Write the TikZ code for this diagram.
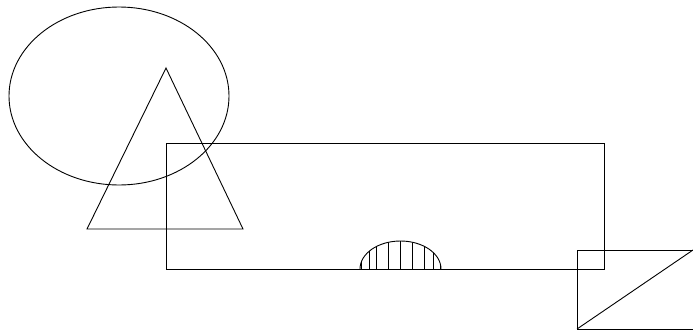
\documentclass[tikz,border=0pt]{standalone}
\begin{document}
\begin{tikzpicture}[x=1pt,y=-1pt,line width=0.9pt,
  figline/.style={draw=black}]
\useasboundingbox (0,0) rectangle (693,330);
% ellipse
\draw[figline] (119,96) ellipse [x radius=110, y radius=89];
% triangle
\draw[figline] (166,68) -- (87,229) -- (243,229) -- cycle;
% rectangle
\draw[figline] (166,143) rectangle (604,269);
% hatched half ellipse
\begin{scope}
\clip (360,269) arc[start angle=180, end angle=360, x radius=40.5, y radius=28] -- cycle;
\foreach \x in {361,369,376,388,400,412,424,433,440}
  \draw[figline] (\x,230) -- (\x,269);
\end{scope}
\draw[figline] (360,269) arc[start angle=180, end angle=360, x radius=40.5, y radius=28];
% square with diagonal
\draw[figline] (577,250) -- (693,250) (577,250) -- (577,329) -- (693,329);
\draw[figline] (577,329) -- (693,250);
\end{tikzpicture}
\end{document}
